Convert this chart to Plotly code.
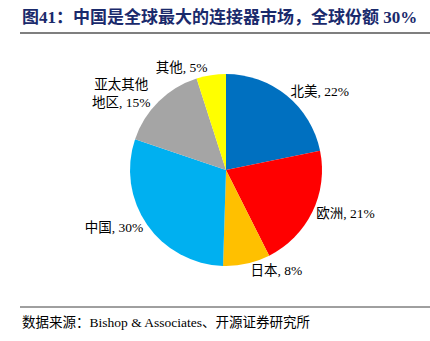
import plotly.graph_objects as go

# Global connector market share by region
regions = ["北美", "欧洲", "日本", "中国", "亚太其他<br>地区", "其他"]
shares = [22, 21, 8, 30, 15, 5]
colors = ["#0070C0", "#FF0000", "#FFC000", "#00B0F0", "#A5A5A5", "#FFFF00"]

title_text = "<b>图41：中国是全球最大的连接器市场，全球份额 30%</b>"
source_text = "数据来源：Bishop &amp; Associates、开源证券研究所"

W, H = 430, 341
cx, cy, r = 226, 170, 96

fig = go.Figure(go.Pie(
    labels=regions,
    values=shares,
    sort=False,
    direction="clockwise",
    rotation=0,
    marker=dict(colors=colors, line=dict(width=0)),
    texttemplate="%{label}, %{value}%",
    textposition="outside",
    outsidetextfont=dict(family="Liberation Serif, Noto Sans CJK SC", size=13.5, color="#000000"),
    hoverinfo="label+value",
    showlegend=False,
    automargin=False,
    domain=dict(x=[(cx - r) / W, (cx + r) / W], y=[1 - (cy + r) / H, 1 - (cy - r) / H]),
))

fig.update_layout(
    width=W, height=H,
    margin=dict(l=0, r=0, t=0, b=0),
    paper_bgcolor="white",
    plot_bgcolor="white",
    annotations=[
        dict(text=title_text, x=20 / W, y=1 - 17 / H, xref="paper", yref="paper",
             xanchor="left", yanchor="middle", showarrow=False,
             font=dict(family="Liberation Serif, Noto Sans CJK SC", size=17, color="#1A2A6C")),
        dict(text=source_text, x=20 / W, y=1 - 322 / H, xref="paper", yref="paper",
             xanchor="left", yanchor="middle", showarrow=False,
             font=dict(family="Liberation Serif, Noto Sans CJK SC", size=13.5, color="#000000")),
    ],
    shapes=[
        dict(type="line", xref="paper", yref="paper", x0=20 / W, x1=1, y0=1 - 33 / H, y1=1 - 33 / H,
             line=dict(color="#7F7F7F", width=2)),
        dict(type="line", xref="paper", yref="paper", x0=20 / W, x1=1, y0=1 - 307 / H, y1=1 - 307 / H,
             line=dict(color="#404040", width=1)),
    ],
)

fig.write_html("out.html")
